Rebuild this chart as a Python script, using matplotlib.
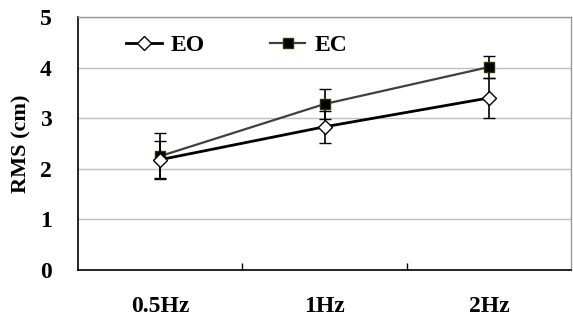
import matplotlib
matplotlib.use("Agg")
import matplotlib.pyplot as plt
from matplotlib.lines import Line2D
import numpy as np

categories = ["0.5Hz", "1Hz", "2Hz"]
eo_values = [2.18, 2.83, 3.40]
eo_err = [0.37, 0.32, 0.40]
ec_values = [2.25, 3.28, 4.01]
ec_err = [0.45, 0.30, 0.22]
y_ticks = [0, 1, 2, 3, 4, 5]

plt.rcParams['font.family'] = ['Liberation Serif', 'DejaVu Serif']
plt.rcParams['font.weight'] = 'bold'

fig = plt.figure(figsize=(5.73, 3.22), dpi=100)
ax = fig.add_axes([78/573, 1-270/322, (571-78)/573, (270-17)/322])

x = np.arange(len(categories))
ec_style = dict(color='#404040', lw=1.6, marker='s', ms=7, mfc='black', mec='#333300', mew=1)
eo_style = dict(color='black', lw=2, marker='D', ms=7, mfc='white', mec='black', mew=1)
ax.errorbar(x, ec_values, yerr=ec_err, ecolor='black', elinewidth=1.2,
            capsize=4, capthick=1.5, zorder=3, **ec_style)
ax.errorbar(x, eo_values, yerr=eo_err, ecolor='black', elinewidth=1.2,
            capsize=4, capthick=1.5, zorder=4, **eo_style)

ax.set_xlim(-0.5, 2.5)
ax.set_ylim(0, 5)
ax.set_yticks(y_ticks)
ax.set_yticklabels([str(v) for v in y_ticks], fontsize=17, fontweight='bold')
ax.set_xticks(x)
ax.set_xticklabels(categories, fontsize=17, fontweight='bold')
ax.set_xticks([0.5, 1.5], minor=True)
ax.tick_params(axis='x', which='major', length=0, pad=19)
ax.tick_params(axis='x', which='minor', length=5, direction='in', width=1)
ax.tick_params(axis='y', length=0, pad=19)
ax.yaxis.grid(True, color='#c0c0c0', lw=1)
ax.set_axisbelow(True)
for s in ['left', 'bottom']:
    ax.spines[s].set_color('black')
    ax.spines[s].set_linewidth(1.2)
for s in ['top', 'right']:
    ax.spines[s].set_color('#999999')
    ax.spines[s].set_linewidth(1)

ax.set_ylabel('RMS (cm)', fontsize=16, fontweight='bold', labelpad=6)

handles = [Line2D([], [], **eo_style), Line2D([], [], **ec_style)]
leg = ax.legend(handles, ['EO', 'EC'],
                loc='upper left', bbox_to_anchor=(0.055, 1.014), ncol=2, frameon=False,
                prop={'family': 'Liberation Serif', 'weight': 'bold', 'size': 17},
                handlelength=1.5, columnspacing=2.75, handletextpad=0.38)

fig.savefig('out.png', dpi=100)
